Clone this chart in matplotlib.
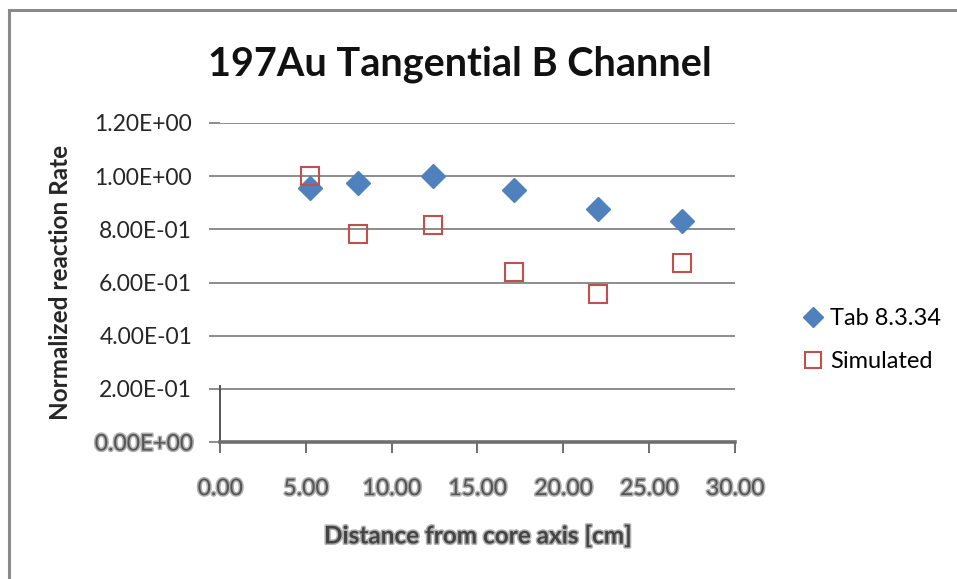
import matplotlib
matplotlib.use('Agg')
import matplotlib.pyplot as plt
import matplotlib.patheffects as pe
from matplotlib.patches import Rectangle
import numpy as np

plt.rcParams.update({'font.family': ['Lato', 'DejaVu Sans'], 'figure.dpi': 100})

# data
dist = [5.24, 8.06, 12.4, 17.1, 22.0, 26.9]
tab_8334 = [0.956, 0.975, 1.0, 0.948, 0.878, 0.830]
simulated = [1.0, 0.781, 0.815, 0.641, 0.556, 0.675]
xticks = [0, 5, 10, 15, 20, 25, 30]
yticks = [0, 0.2, 0.4, 0.6, 0.8, 1.0, 1.2]

BLUE = '#4F81BD'; RED = '#C0504D'; GRID = '#8c8c8c'; TXT = '#262626'
halo = [pe.withStroke(linewidth=2.2, foreground='#b0b0b0')]

fig = plt.figure(figsize=(9.57, 5.79))
# outer chart border (right/bottom run off the image)
fig.patches.append(Rectangle((9/957, -0.05), 1.1, 1 - 10/579 + 0.05, transform=fig.transFigure,
                             fill=False, ec='#8a8a8a', lw=2.2))
ax = fig.add_axes([220/957, 1 - 442/579, (735 - 220)/957, (442 - 123)/579])

ax.plot(dist, tab_8334, ls='none', marker='D', ms=12, color=BLUE, mec=BLUE, zorder=4,
        label='Tab 8.3.34')
ax.plot(dist, simulated, ls='none', marker='s', ms=13.5, mfc='none', mec=RED, mew=1.5, zorder=5,
        label='Simulated')

ax.set_xlim(0, 30); ax.set_ylim(0, 1.2)
ax.set_xticks(xticks); ax.set_yticks(yticks)
ax.set_xticklabels(['%.2f' % v for v in xticks], fontsize=16.5, color='#555555')
ax.set_yticklabels(['%.2E' % v for v in yticks], fontsize=16.5, color=TXT)
for t in ax.get_xticklabels():
    t.set_path_effects(halo)
ax.get_yticklabels()[0].set_path_effects(halo)
ax.get_yticklabels()[0].set_color('#555555')
ax.grid(axis='y', color=GRID, lw=1.4, zorder=1)
ax.set_axisbelow(True)
ax.tick_params(axis='y', length=8, width=1.4, color=GRID, pad=12, direction='out')
ax.tick_params(axis='x', length=8, width=1.2, color='#555555', pad=18, direction='out')
for s in ['top', 'right']:
    ax.spines[s].set_visible(False)
ax.spines['bottom'].set_color('#6e6e6e'); ax.spines['bottom'].set_linewidth(2.6)
ax.spines['left'].set_color('#555555'); ax.spines['left'].set_linewidth(1.4)
ax.spines['left'].set_bounds(0, 0.21)

ax.set_xlabel('Distance from core axis [cm]', fontsize=17.5, fontweight='bold', color='#444444',
              labelpad=18, path_effects=halo)
ax.set_ylabel('Normalized reaction Rate', fontsize=17.5, fontweight='bold', color=TXT)
ax.yaxis.set_label_coords(72/957, 1 - 282/579, transform=fig.transFigure)

fig.text(460/957, 1 - 64/579, '197Au Tangential B Channel', ha='center', va='center',
         fontsize=28.5, fontweight='bold', color='#111111')

ax.legend(loc='center left', bbox_to_anchor=(778/957, 1 - 340/579), bbox_transform=fig.transFigure,
          frameon=False, fontsize=17, handletextpad=0.1, labelspacing=0.95, markerscale=0.85,
          handlelength=1.2)

fig.savefig('out.png', dpi=100)
